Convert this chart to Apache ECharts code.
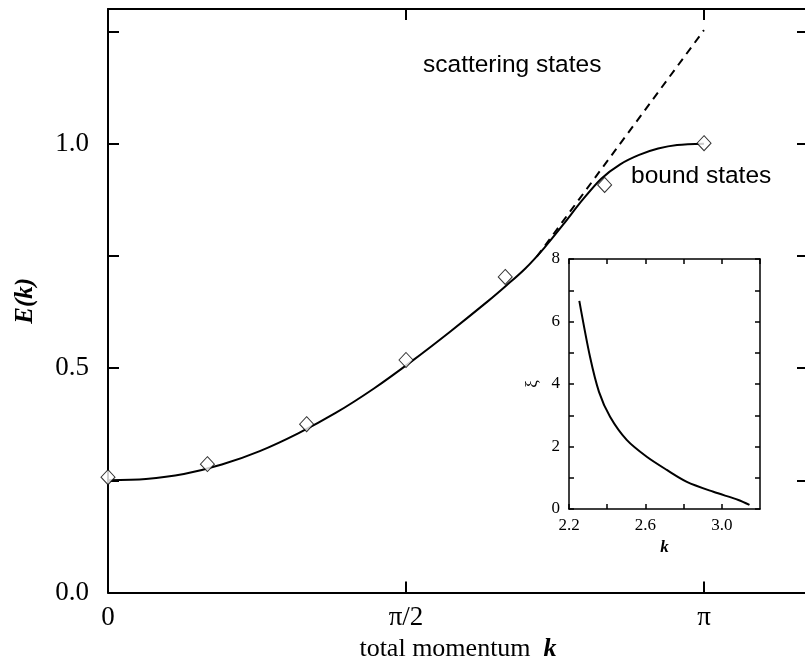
<!DOCTYPE html>
<html>
<head>
<meta charset="utf-8">
<script src="https://cdn.jsdelivr.net/npm/echarts@6/dist/echarts.min.js"></script>
<style>
  html, body { margin: 0; padding: 0; background: #fff; }
  #chart { width: 805px; height: 670px; }
</style>
</head>
<body>
<div id="chart"></div>
<script>
// main panel: E(k) curve (solid), scattering edge (dashed), numerical points (diamonds)
const kCurve = [0, 0.2, 0.4, 0.6, 0.8, 1.0, 1.2, 1.4, 1.6, 1.8, 2.0, 2.1, 2.2, 2.3, 2.4, 2.5, 2.6, 2.7, 2.8, 2.9, 3.0, 3.1416]
const eCurve = [0.250, 0.253, 0.264, 0.285, 0.315, 0.354, 0.400, 0.454, 0.515, 0.580, 0.648, 0.684, 0.722, 0.768, 0.820, 0.874, 0.922, 0.954, 0.975, 0.989, 0.997, 1.0]
const kScatter = [2.26, 3.1416]
const eScatter = [0.748, 1.253]
const kPoints = [0, 0.524, 1.047, 1.571, 2.094, 2.618, 3.142]
const ePoints = [0.257, 0.286, 0.375, 0.518, 0.703, 0.908, 1.001]
const kTicks = [0, 1.5708, 3.1416]
const eTicks = [0, 0.25, 0.5, 0.75, 1.0, 1.25]

// inset: correlation length xi(k)
const kXi = [2.254, 2.31, 2.357, 2.415, 2.502, 2.607, 2.712, 2.817, 2.956, 3.087, 3.145]
const xi = [6.66, 4.87, 3.75, 2.95, 2.21, 1.67, 1.25, 0.87, 0.55, 0.29, 0.13]

const serif = 'Liberation Serif'
const black = '#000'

function zip(a, b) { return a.map((v, i) => [v, b[i]]) }

function piLabel(v) {
  if (Math.abs(v) < 1e-3) return '0'
  if (Math.abs(v - Math.PI / 2) < 1e-3) return 'π/2'
  if (Math.abs(v - Math.PI) < 1e-3) return 'π'
  return ''
}

const frameLine = { show: true, onZero: false, lineStyle: { color: black, width: 2 } }
const insetLine = { show: true, onZero: false, lineStyle: { color: black, width: 1.5 } }
const mainTick = vals => ({ show: true, inside: true, length: 11, customValues: vals, lineStyle: { color: black, width: 2 } })
const insetTick = { show: true, inside: true, length: 5, lineStyle: { color: black, width: 1.5 } }

const chart = echarts.init(document.getElementById('chart'))
chart.setOption({
  backgroundColor: '#fff',
  animation: false,
  grid: [
    // right edge of the frame lies just past the window
    { left: 108, top: 9, width: 700, bottom: 77.5, outerBoundsMode: 'none' },
    { left: 569, top: 259, width: 191, height: 250, outerBoundsMode: 'none' },
  ],
  xAxis: [
    {
      gridIndex: 0, type: 'value', min: 0, max: 3.69,
      axisLine: frameLine, axisTick: mainTick(kTicks), splitLine: { show: false },
      axisLabel: { customValues: kTicks, formatter: piLabel, fontFamily: serif, fontSize: 27, color: black, margin: 12 },
      name: '{n|total momentum  }{k|k}', nameLocation: 'middle', nameGap: 44,
      nameTextStyle: {
        rich: {
          n: { fontFamily: serif, fontSize: 26, color: black },
          k: { fontFamily: serif, fontSize: 26, fontStyle: 'italic', fontWeight: 'bold', color: black },
        },
      },
    },
    {
      gridIndex: 0, type: 'value', position: 'top', min: 0, max: 3.69,
      axisLine: frameLine, axisTick: mainTick(kTicks), splitLine: { show: false }, axisLabel: { show: false },
    },
    {
      gridIndex: 1, type: 'value', min: 2.2, max: 3.2, interval: 0.2,
      axisLine: insetLine, axisTick: insetTick, splitLine: { show: false },
      axisLabel: {
        formatter: v => ([2.2, 2.6, 3.0].some(t => Math.abs(v - t) < 1e-6) ? v.toFixed(1) : ''),
        fontFamily: serif, fontSize: 17, color: black, margin: 8, showMaxLabel: false,
      },
      name: 'k', nameLocation: 'middle', nameGap: 30,
      nameTextStyle: { fontFamily: serif, fontSize: 17, fontStyle: 'italic', fontWeight: 'bold', color: black },
    },
    {
      gridIndex: 1, type: 'value', position: 'top', min: 2.2, max: 3.2, interval: 0.2,
      axisLine: insetLine, axisTick: insetTick, splitLine: { show: false }, axisLabel: { show: false },
    },
  ],
  yAxis: [
    {
      gridIndex: 0, type: 'value', min: 0, max: 1.3,
      axisLine: frameLine, axisTick: mainTick(eTicks), splitLine: { show: false },
      axisLabel: {
        customValues: [0, 0.5, 1.0], formatter: v => v.toFixed(1),
        fontFamily: serif, fontSize: 27, color: black, margin: 19,
      },
      name: 'E(k)', nameLocation: 'middle', nameGap: 70,
      nameTextStyle: { fontFamily: serif, fontSize: 25, fontStyle: 'italic', fontWeight: 'bold', color: black },
    },
    {
      gridIndex: 0, type: 'value', position: 'right', min: 0, max: 1.3,
      axisLine: frameLine, axisTick: mainTick(eTicks), splitLine: { show: false }, axisLabel: { show: false },
    },
    {
      gridIndex: 1, type: 'value', min: 0, max: 8, interval: 1,
      axisLine: insetLine, axisTick: insetTick, splitLine: { show: false },
      axisLabel: {
        formatter: v => (v % 2 === 0 ? String(v) : ''),
        fontFamily: serif, fontSize: 17, color: black, margin: 9,
      },
      name: 'ξ', nameLocation: 'middle', nameGap: 28,
      nameTextStyle: { fontFamily: serif, fontSize: 17, color: black },
    },
    {
      gridIndex: 1, type: 'value', position: 'right', min: 0, max: 8, interval: 1,
      axisLine: insetLine, axisTick: insetTick, splitLine: { show: false }, axisLabel: { show: false },
    },
  ],
  series: [
    {
      type: 'line', xAxisIndex: 0, yAxisIndex: 0, data: zip(kCurve, eCurve),
      smooth: 0.3, showSymbol: false, lineStyle: { color: black, width: 2 },
    },
    {
      type: 'line', xAxisIndex: 0, yAxisIndex: 0, data: zip(kScatter, eScatter),
      showSymbol: false, lineStyle: { color: black, width: 2, type: [8, 6] },
    },
    {
      type: 'scatter', xAxisIndex: 0, yAxisIndex: 0, data: zip(kPoints, ePoints),
      symbol: 'diamond', symbolSize: [14, 15],
      itemStyle: { color: '#fff', borderColor: black, borderWidth: 1 },
      z: 5,
    },
    {
      type: 'line', xAxisIndex: 2, yAxisIndex: 2, data: zip(kXi, xi),
      smooth: 0.3, showSymbol: false, lineStyle: { color: black, width: 2 },
    },
  ],
  graphic: [
    { type: 'text', left: 423, top: 53, style: { text: 'scattering states', font: '24.5px "Liberation Sans"', fill: black } },
    { type: 'text', left: 631, top: 164, style: { text: 'bound states', font: '24.5px "Liberation Sans"', fill: black } },
  ],
})
</script>
</body>
</html>
